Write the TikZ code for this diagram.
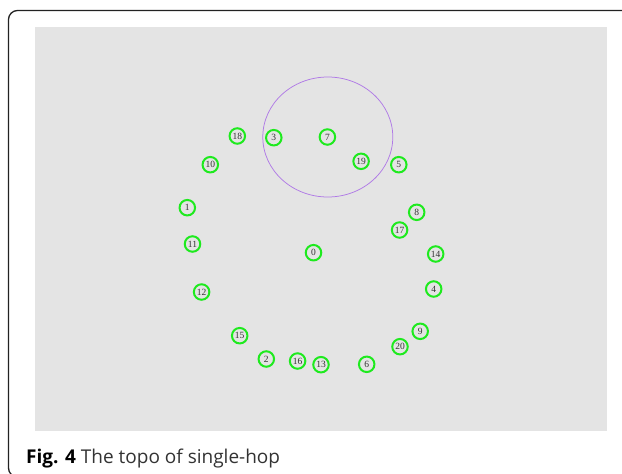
\documentclass[tikz,border=0pt]{standalone}
\usepackage{fontspec}
\setmainfont{Liberation Serif}
\newfontfamily\capfont{Open Sans}
\definecolor{panelgray}{HTML}{E4E4E4}
\definecolor{nodegreen}{HTML}{1EEA1E}
\definecolor{rangepurple}{HTML}{B07AE6}
\definecolor{framegray}{HTML}{222222}
\definecolor{captext}{HTML}{333333}
\tikzset{
  x=1pt, y=-1pt,
  sensor/.style={circle, draw=nodegreen, line width=2pt, minimum size=15.5pt, inner sep=0pt,
    font=\fontsize{9.5}{9.5}\selectfont, text=black!80},
}
\begin{document}
\begin{tikzpicture}
\useasboundingbox (0,0) rectangle (622,474);
\clip (0,0) rectangle (622,474);
\fill[white] (0,0) rectangle (622,474);
\draw[framegray, line width=1.3pt, rounded corners=9pt] (8.5,10.5) rectangle (660,477);
\fill[panelgray] (35,27) rectangle (607,431);
\draw[rangepurple, line width=0.75pt] (327.8,137) ellipse [x radius=65, y radius=60];
\foreach \n/\x/\y in {18/237.3/136, 3/273.8/137.7, 7/327.4/137, 19/361.1/161.3, 5/398.8/164.7,
  10/210.3/164.7, 1/187.3/207.7, 8/416.7/212.3, 17/399.6/230, 11/192.5/244, 0/313.5/252.7,
  14/435.7/254, 12/201.6/292, 4/433.7/289, 15/239.7/335.7, 9/420.2/331.3, 20/400/346.7,
  2/266.3/359, 16/297.6/361, 13/321/364.7, 6/366.7/364.3}
  \node[sensor] (n\n) at (\x,\y) {\n};
\node[anchor=base west, inner sep=0pt, text=captext, font=\capfont\fontsize{19}{19}\selectfont] (cap) at (26,463)
  {\textbf{\color{black}Fig. 4} The topo of single-hop};
\end{tikzpicture}
\end{document}
